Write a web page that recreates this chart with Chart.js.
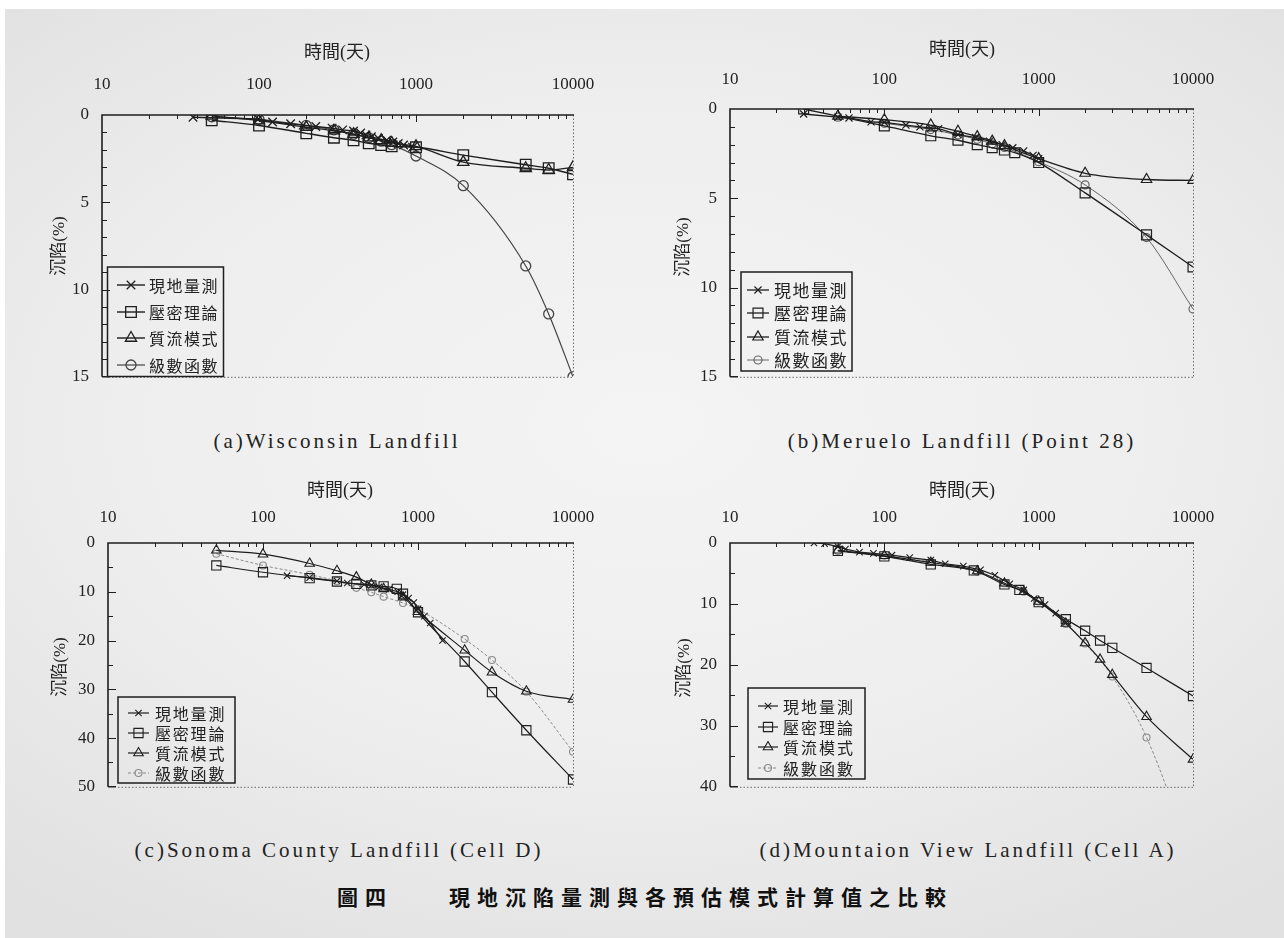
<!DOCTYPE html>
<html><head><meta charset="utf-8">
<script src="https://cdn.jsdelivr.net/npm/chart.js@4/dist/chart.umd.min.js"></script>
<style>
html,body{margin:0;padding:0;background:#fff;}
#page{position:relative;width:1284px;height:938px;overflow:hidden;background:#fff;}
#bg{position:absolute;left:5px;top:9px;right:0;bottom:0;background:radial-gradient(ellipse 75% 65% at 50% 45%, #f4f4f4 0%, #eeeeee 55%, #e1e1e1 100%);}
canvas{position:absolute;}
.t{position:absolute;transform:translate(-50%,-50%);white-space:nowrap;color:#222;}
.xt{font:18px "Liberation Serif","Noto Sans CJK TC",serif;}
.yt{font:17px "Liberation Serif","Noto Sans CJK TC",serif;transform:translate(-50%,-50%) rotate(-90deg);}
.cap{font:21px "Liberation Serif",serif;letter-spacing:3px;}
.main{font:bold 21px "Noto Sans CJK TC",sans-serif;letter-spacing:7px;color:#111;}
</style></head><body>
<div id="page"><div id="bg"></div>
<canvas id="ca" width="620" height="340" style="left:0px;top:60px"></canvas>
<canvas id="cb" width="620" height="345" style="left:640px;top:55px"></canvas>
<canvas id="cc" width="620" height="320" style="left:0px;top:490px"></canvas>
<canvas id="cd" width="620" height="320" style="left:640px;top:490px"></canvas>
<div class="t xt" style="left:337px;top:50px">時間(天)</div>
<div class="t xt" style="left:962px;top:47px">時間(天)</div>
<div class="t xt" style="left:340px;top:488px">時間(天)</div>
<div class="t xt" style="left:962px;top:488px">時間(天)</div>
<div class="t yt" style="left:56px;top:246px">沉陷(%)</div>
<div class="t yt" style="left:680px;top:247px">沉陷(%)</div>
<div class="t yt" style="left:57px;top:667px">沉陷(%)</div>
<div class="t yt" style="left:681px;top:668px">沉陷(%)</div>
<div class="t cap" style="left:337px;top:441px">(a)Wisconsin Landfill</div>
<div class="t cap" style="left:962px;top:441px">(b)Meruelo Landfill (Point 28)</div>
<div class="t cap" style="left:339px;top:850px">(c)Sonoma County Landfill (Cell D)</div>
<div class="t cap" style="left:968px;top:850px">(d)Mountaion View Landfill (Cell A)</div>
<div class="t main" style="left:645px;top:896px">圖四　　現地沉陷量測與各預估模式計算值之比較</div>
</div>
<script>
// ---------- data ----------
const SERIES_NAMES = ['現地量測', '壓密理論', '質流模式', '級數函數'];
const X_TICK_LABELS = [10, 100, 1000, 10000];

// (a) Wisconsin Landfill
const A_MEAS_DAYS = [38, 99, 122, 159, 191, 230, 292, 341, 400, 444, 480, 520, 577, 650, 712, 771, 834, 951];
const A_MEAS = [0.13, 0.23, 0.4, 0.5, 0.58, 0.66, 0.75, 0.85, 0.92, 1.03, 1.15, 1.25, 1.35, 1.45, 1.55, 1.63, 1.72, 1.85];
const A_MODEL_DAYS = [50, 100, 200, 300, 400, 500, 600, 700, 1000, 2000, 5000, 7000, 10000];
const A_CONSOL = [0.3, 0.6, 1.05, 1.3, 1.45, 1.62, 1.72, 1.8, 1.85, 2.3, 2.85, 3.05, 3.4];
const A_MASSFLOW = [0.05, 0.32, 0.7, 0.9, 1.1, 1.3, 1.45, 1.6, 1.8, 2.7, 3.05, 3.15, 3.0];
const A_SERIESFN = [0.1, 0.25, 0.6, 0.85, 1.1, 1.3, 1.5, 1.7, 2.35, 4.05, 8.65, 11.4, 15.0];

// (b) Meruelo Landfill (Point 28)
const B_MEAS_DAYS = [30, 50, 59, 82, 100, 138, 170, 200, 225, 300, 390, 480, 580, 680, 800, 920, 1000];
const B_MEAS = [0.28, 0.46, 0.5, 0.72, 0.75, 0.9, 1.0, 1.07, 1.1, 1.43, 1.6, 1.8, 2.0, 2.17, 2.35, 2.6, 2.78];
const B_CONSOL_DAYS = [30, 100, 200, 300, 400, 500, 600, 700, 1000, 2000, 5000, 10000];
const B_CONSOL = [0, 0.95, 1.5, 1.75, 2.0, 2.17, 2.3, 2.45, 3.0, 4.7, 7.05, 8.85];
const B_MODEL_DAYS = [50, 100, 200, 300, 400, 500, 600, 1000, 2000, 5000, 10000];
const B_MASSFLOW = [0.4, 0.6, 0.9, 1.25, 1.55, 1.8, 2.05, 2.78, 3.6, 3.95, 4.0];
const B_SERIESFN = [0.46, 0.8, 1.15, 1.45, 1.7, 1.95, 2.15, 2.95, 4.25, 7.2, 11.2];

// (c) Sonoma County Landfill (Cell D)
const C_MEAS_DAYS = [143, 200, 300, 350, 450, 500, 560, 650, 740, 800, 870, 940, 1000, 1100, 1200, 1440];
const C_MEAS = [6.7, 7.1, 7.8, 8.2, 8.5, 8.7, 9.0, 9.5, 10.0, 10.6, 11.3, 12.2, 13.5, 15.0, 16.4, 20.0];
const C_CONSOL_DAYS = [50, 100, 200, 300, 400, 500, 600, 730, 800, 1000, 2000, 3000, 5000, 10000];
const C_CONSOL = [4.6, 6.0, 7.2, 7.9, 8.4, 8.7, 8.9, 9.4, 10.4, 14.2, 24.3, 30.6, 38.4, 48.5];
const C_MODEL_DAYS = [50, 100, 200, 300, 400, 500, 600, 800, 1000, 2000, 3000, 5000, 10000];
const C_MASSFLOW = [1.5, 2.3, 4.2, 5.7, 7.0, 8.5, 9.4, 11.1, 14.1, 22.0, 26.5, 30.4, 32.1];
const C_SERIESFN = [2.2, 4.6, 6.5, 7.8, 9.2, 10.1, 11.0, 12.3, 13.6, 19.7, 24.0, 30.5, 42.8];

// (d) Mountaion View Landfill (Cell A)
const D_MEAS_DAYS = [35, 41, 50, 56, 69, 85, 112, 146, 200, 248, 325, 420, 520, 650, 800, 935, 1100, 1290, 1510];
const D_MEAS = [0, 0.1, 0.6, 1.0, 1.5, 1.7, 2.0, 2.4, 2.8, 3.4, 3.8, 4.4, 5.3, 6.7, 7.7, 9.1, 10.1, 11.5, 13.0];
const D_CONSOL_DAYS = [50, 100, 200, 380, 600, 750, 1000, 1500, 2000, 2500, 3000, 5000, 10000];
const D_CONSOL = [1.3, 2.2, 3.5, 4.5, 6.8, 7.7, 9.7, 12.5, 14.4, 16.0, 17.2, 20.5, 25.1];
const D_MASSFLOW_DAYS = [50, 100, 200, 400, 600, 800, 1000, 1500, 2000, 2500, 3000, 5000, 10000];
const D_MASSFLOW = [1.2, 2.1, 3.2, 4.6, 6.6, 8.0, 9.6, 13.2, 16.4, 19.1, 21.6, 28.5, 35.5];
const D_SERIES_DAYS = [50, 100, 200, 400, 600, 800, 1000, 1500, 2000, 3000, 5000, 10000];
const D_SERIESFN = [1.3, 2.1, 3.1, 4.7, 6.6, 8.0, 9.6, 13.3, 16.5, 21.9, 31.9, 52];

// ---------- helpers ----------
const pts = (days, vals) => days.map((d, i) => ({x: d, y: vals[i]}));
const INK = '#1e1e1e';

function markerPath(ctx, style, x, y, r) {
  ctx.beginPath();
  if (style === 'crossRot') {
    const d = r * Math.SQRT1_2;
    ctx.moveTo(x - d, y - d); ctx.lineTo(x + d, y + d);
    ctx.moveTo(x - d, y + d); ctx.lineTo(x + d, y - d);
  } else if (style === 'rect') {
    const s = r * Math.SQRT1_2;
    ctx.rect(x - s, y - s, 2 * s, 2 * s);
  } else if (style === 'triangle') {
    for (let k = 0; k < 3; k++) {
      const a = k * 2 * Math.PI / 3;
      const px = x + Math.sin(a) * r, py = y - Math.cos(a) * r;
      k ? ctx.lineTo(px, py) : ctx.moveTo(px, py);
    }
    ctx.closePath();
  } else {
    ctx.arc(x, y, r, 0, Math.PI * 2);
  }
}

const framePlugin = {
  id: 'frame',
  beforeDatasetsDraw(chart, args, o) {
    const {ctx, chartArea: a, scales: {x, y}} = chart;
    ctx.save();
    ctx.strokeStyle = INK; ctx.lineWidth = 1;
    ctx.beginPath();
    for (let e = 1; e < 4; e++) {
      for (let m = 1; m <= 9; m++) {
        const v = m * Math.pow(10, e);
        if (v <= 10) continue;
        const px = Math.round(x.getPixelForValue(v)) + 0.5;
        const len = m === 1 ? 7 : 4;
        ctx.moveTo(px, a.top); ctx.lineTo(px, a.top + len);
      }
    }
    for (let v = y.min + o.minor; v < y.max; v += o.minor) {
      const py = Math.round(y.getPixelForValue(v)) + 0.5;
      const len = (Math.abs(v % o.major) < 1e-9) ? 8 : 5;
      ctx.moveTo(a.left, py); ctx.lineTo(a.left + len, py);
    }
    ctx.stroke();
    ctx.strokeStyle = '#6a6a6a'; ctx.lineWidth = 1; ctx.setLineDash([1.5, 2]);
    ctx.beginPath();
    ctx.moveTo(a.right + 0.5, a.top); ctx.lineTo(a.right + 0.5, a.bottom);
    ctx.moveTo(a.left + 10, a.bottom + 0.5); ctx.lineTo(a.right, a.bottom + 0.5);
    ctx.stroke();
    ctx.setLineDash([]); ctx.strokeStyle = INK; ctx.lineWidth = 1.6;
    ctx.beginPath();
    ctx.moveTo(a.left, a.bottom); ctx.lineTo(a.left, a.top); ctx.lineTo(a.right + 1, a.top);
    ctx.moveTo(a.left, a.bottom); ctx.lineTo(a.left + 8, a.bottom);
    ctx.stroke();
    ctx.restore();
  },
  afterDatasetsDraw(chart, args, o) {
    const L = o.legend; if (!L) return;
    const {ctx} = chart;
    const ox = o.offset[0], oy = o.offset[1];
    ctx.save();
    ctx.strokeStyle = INK; ctx.lineWidth = 1.5; ctx.setLineDash([]);
    ctx.strokeRect(L.box[0] - ox, L.box[1] - oy, L.box[2] - L.box[0], L.box[3] - L.box[1]);
    chart.data.datasets.forEach((ds, i) => {
      const yy = L.rows[i] - oy;
      ctx.strokeStyle = ds.borderColor; ctx.lineWidth = ds.borderWidth;
      ctx.setLineDash(ds.borderDash || []);
      ctx.beginPath(); ctx.moveTo(L.line[0] - ox, yy); ctx.lineTo(L.line[1] - ox, yy); ctx.stroke();
      ctx.setLineDash([]);
      ctx.strokeStyle = ds.pointBorderColor; ctx.lineWidth = ds.pointBorderWidth;
      markerPath(ctx, ds.pointStyle, (L.line[0] + L.line[1]) / 2 - ox, yy, ds.pointRadius);
      ctx.stroke();
      ctx.fillStyle = '#222';
      ctx.font = L.font + 'px "Noto Sans CJK TC", sans-serif';
      ctx.textBaseline = 'middle'; ctx.textAlign = 'left';
      [...ds.label].forEach((ch, k) => ctx.fillText(ch, L.text - ox + k * L.step, yy + 1));
    });
    ctx.restore();
  }
};

function isPow10(v) { const l = Math.log10(v); return Math.abs(l - Math.round(l)) < 1e-9; }

function makeChart(id, cfg) {
  const st = cfg.style;
  const mk = (label, data, pstyle, r, color, bw, dash, smooth) => ({
    label, data, pointStyle: pstyle, pointRadius: r, pointHoverRadius: r,
    borderColor: color, borderWidth: bw, borderDash: dash,
    pointBorderColor: color, pointBorderWidth: st.pbw, pointBackgroundColor: 'rgba(0,0,0,0)',
    tension: 0, cubicInterpolationMode: smooth ? 'monotone' : 'default', fill: false
  });
  const datasets = [
    mk(SERIES_NAMES[0], cfg.meas, 'crossRot', st.rx, INK, st.lw, [], false),
    mk(SERIES_NAMES[1], cfg.consol, 'rect', st.rr, INK, st.lw, [], true),
    mk(SERIES_NAMES[2], cfg.mass, 'triangle', st.rt, INK, st.lw, [], true),
    mk(SERIES_NAMES[3], cfg.series, 'circle', st.rc, st.scol, st.slw, st.sdash, true)
  ];
  const c = cfg.canvas, p = cfg.plot;
  const padding = {left: p.l - c.l - 40, top: p.t - c.t - 40, right: c.l + c.w - p.r, bottom: c.t + c.h - p.b};
  return new Chart(document.getElementById(id), {
    type: 'line',
    data: {datasets},
    plugins: [framePlugin],
    options: {
      responsive: false, animation: false, devicePixelRatio: 1,
      layout: {padding},
      plugins: {legend: {display: false}, tooltip: {enabled: false},
        frame: {minor: cfg.yMinor, major: cfg.yMajor, legend: cfg.legend, offset: [c.l, c.t]}},
      scales: {
        x: {type: 'logarithmic', position: 'top', min: 10, max: 10000,
          afterFit: s => { s.height = 40; },
          grid: {display: false, drawTicks: false}, border: {display: false},
          ticks: {autoSkip: false, maxRotation: 0, minRotation: 0, padding: cfg.xPad, color: '#222',
            font: {family: '"Liberation Serif", serif', size: 17, lineHeight: 1.2},
            callback: v => (isPow10(v) && X_TICK_LABELS.includes(Math.round(v))) ? String(Math.round(v)) : ''}},
        y: {type: 'linear', position: 'left', reverse: true, min: 0, max: cfg.yMax,
          afterFit: s => { s.width = 40; },
          grid: {display: false, drawTicks: false}, border: {display: false},
          ticks: {stepSize: cfg.yMajor, padding: 13, color: '#222',
            font: {family: '"Liberation Serif", serif', size: 17}}}
      }
    }
  });
}

const bigStyle = {rx: 6, rr: 7.5, rt: 6.5, rc: 5, lw: 1.4, pbw: 1.3, scol: '#444', slw: 1.2, sdash: []};
const bStyle = {rx: 5, rr: 7, rt: 6, rc: 4, lw: 1.3, pbw: 1.2, scol: '#666', slw: 1, sdash: []};
const smallStyle = {rx: 4.5, rr: 6.5, rt: 5.5, rc: 3.5, lw: 1.2, pbw: 1.1, scol: '#8a8a8a', slw: 1, sdash: [3, 2]};

makeChart('ca', {
  canvas: {l: 0, t: 60, w: 620, h: 340}, plot: {l: 102, r: 573, t: 115, b: 380},
  yMax: 15, yMajor: 5, yMinor: 1, xPad: 20, style: bigStyle,
  meas: pts(A_MEAS_DAYS, A_MEAS), consol: pts(A_MODEL_DAYS, A_CONSOL),
  mass: pts(A_MODEL_DAYS, A_MASSFLOW), series: pts(A_MODEL_DAYS, A_SERIESFN),
  legend: {box: [107.5, 267, 223.5, 376.5], rows: [285, 312, 338, 365], line: [117, 145], text: 149, font: 16, step: 17.5}
});
makeChart('cb', {
  canvas: {l: 640, t: 55, w: 620, h: 345}, plot: {l: 730, r: 1193, t: 109, b: 381},
  yMax: 15, yMajor: 5, yMinor: 1, xPad: 19, style: bStyle,
  meas: pts(B_MEAS_DAYS, B_MEAS), consol: pts(B_CONSOL_DAYS, B_CONSOL),
  mass: pts(B_MODEL_DAYS, B_MASSFLOW), series: pts(B_MODEL_DAYS, B_SERIESFN),
  legend: {box: [741, 272, 852, 371], rows: [290, 313, 337, 360], line: [747, 769], text: 774, font: 17, step: 18.5}
});
makeChart('cc', {
  canvas: {l: 0, t: 490, w: 620, h: 320}, plot: {l: 108, r: 573, t: 543, b: 792},
  yMax: 50, yMajor: 10, yMinor: 5, xPad: 15, style: smallStyle,
  meas: pts(C_MEAS_DAYS, C_MEAS), consol: pts(C_CONSOL_DAYS, C_CONSOL),
  mass: pts(C_MODEL_DAYS, C_MASSFLOW), series: pts(C_MODEL_DAYS, C_SERIESFN),
  legend: {box: [118, 697, 235, 783], rows: [713, 733, 753, 773], line: [128, 149], text: 155, font: 16, step: 17.8}
});
makeChart('cd', {
  canvas: {l: 640, t: 490, w: 620, h: 320}, plot: {l: 730, r: 1193, t: 543, b: 793},
  yMax: 40, yMajor: 10, yMinor: 5, xPad: 15, style: smallStyle,
  meas: pts(D_MEAS_DAYS, D_MEAS), consol: pts(D_CONSOL_DAYS, D_CONSOL),
  mass: pts(D_MASSFLOW_DAYS, D_MASSFLOW), series: pts(D_SERIES_DAYS, D_SERIESFN),
  legend: {box: [748, 688, 865, 779], rows: [706, 727, 747, 768], line: [758, 778], text: 783, font: 16, step: 18}
});
</script>
</body></html>
